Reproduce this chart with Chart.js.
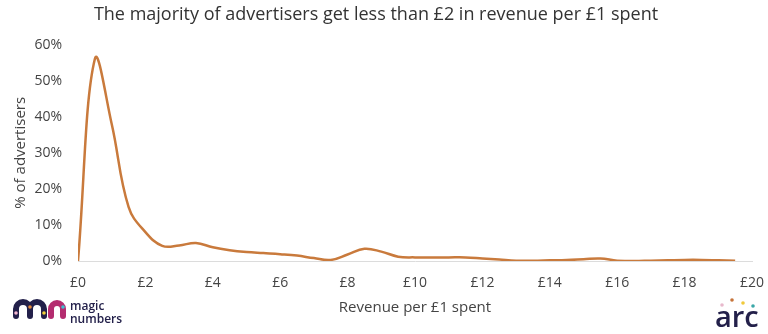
<!DOCTYPE html>
<html>
<head>
<meta charset="utf-8">
<script src="https://cdn.jsdelivr.net/npm/chart.js@4"></script>
<style>
  html, body { margin: 0; padding: 0; background: #fff; }
  #wrap { width: 768px; height: 334px; }
</style>
</head>
<body>
<div id="wrap"><canvas id="revChart" width="768" height="334"></canvas></div>
<script>
// revenue per £1 spent (x) and % of advertisers (y)
const revenue = [0, 0.5, 1, 1.5, 2, 2.5, 3, 3.5, 4, 4.5, 5, 5.5, 6, 6.5, 7, 7.5, 8, 8.5, 9, 9.5,
  10, 10.5, 11, 11.5, 12, 12.5, 13, 13.5, 14, 14.5, 15, 15.5, 16, 16.5, 17, 17.5, 18, 18.5, 19, 19.5];
const advertisers = [0, 56, 38, 15, 8, 4.2, 4.3, 5, 3.8, 3, 2.5, 2.2, 1.9, 1.5, 0.8, 0.3, 1.8, 3.4, 2.6, 1.2,
  1.0, 1.0, 1.0, 1.0, 0.7, 0.4, 0.1, 0.1, 0.2, 0.3, 0.5, 0.7, 0.1, 0, 0.1, 0.2, 0.3, 0.3, 0.2, 0.1];
const xTicks = [0, 2, 4, 6, 8, 10, 12, 14, 16, 18, 20];
const yTicks = [0, 10, 20, 30, 40, 50, 60];

const FONT = "'Open Sans', 'Noto Sans', sans-serif";
const txt = "#444";
const lineColor = "#c97a3c";

const points = revenue.map((r, i) => ({ x: r, y: advertisers[i] }));

// draws the two logos at the bottom corners
const logos = {
  id: "logos",
  afterDraw(chart) {
    const c = chart.ctx;
    c.save();
    c.lineCap = "round";
    c.lineJoin = "round";
    c.lineWidth = 6;
    // "m"
    c.strokeStyle = "#23204a";
    c.beginPath();
    c.moveTo(16, 316);
    c.lineTo(16, 309);
    c.arc(23, 309, 7, Math.PI, 0);
    c.lineTo(30, 316);
    c.moveTo(30, 309);
    c.arc(37, 309, 7, Math.PI, 0);
    c.lineTo(44, 316);
    c.stroke();
    // "n"
    c.strokeStyle = "#b42c6f";
    c.beginPath();
    c.moveTo(51, 316);
    c.lineTo(51, 309);
    c.arc(57, 309, 6, Math.PI, 0);
    c.lineTo(63, 316);
    c.stroke();
    const dot = (x, y, col) => { c.fillStyle = col; c.beginPath(); c.arc(x, y, 1.8, 0, Math.PI * 2); c.fill(); };
    dot(16, 313, "#f3b6d0");
    dot(30, 307, "#e98a3a");
    dot(44, 313, "#f2cf3a");
    dot(63, 307, "#3fbfd2");

    c.fillStyle = "#23204a";
    c.font = "600 12px " + FONT;
    c.textBaseline = "middle";
    c.textAlign = "left";
    c.fillText("magic", 70, 307);
    c.fillText("numbers", 70, 320);

    c.font = "600 29px " + FONT;
    c.textAlign = "left";
    c.textBaseline = "alphabetic";
    c.fillText("arc", 715, 327);
    dot(722, 305, "#e8b9cc");
    dot(732, 300, "#c6743a");
    dot(743, 303, "#f0c93a");
    dot(753, 306, "#3aa7a8");
    c.restore();
  }
};

new Chart(document.getElementById("revChart"), {
  type: "line",
  data: {
    datasets: [
      {
        data: points,
        borderColor: lineColor,
        borderWidth: 2.5,
        pointRadius: 0,
        tension: 0.4,
        fill: false,
      },
    ],
  },
  options: {
    responsive: false,
    animation: false,
    layout: {
      padding: { left: 0, right: 16, top: 0, bottom: 0 },
    },
    plugins: {
      legend: { display: false },
      tooltip: { enabled: false },
      title: {
        display: true,
        text: "The majority of advertisers get less than £2 in revenue per £1 spent",
        color: "#333",
        font: { family: FONT, size: 18, weight: "normal" },
        padding: { top: 4, bottom: 19 },
      },
    },
    scales: {
      x: {
        type: "linear",
        min: 0,
        max: 20,
        afterBuildTicks: (s) => { s.ticks = xTicks.map((v) => ({ value: v })); },
        afterFit: (s) => {
          s.height = 73;
          s.paddingLeft = 0;
          s.paddingRight = 0;
        },
        grid: { display: false, drawTicks: false },
        border: { display: true, color: "#dcdcdc", width: 1 },
        ticks: {
          color: txt,
          padding: 14,
          maxRotation: 0,
          font: { family: FONT, size: 14 },
          callback: (v) => "£" + v,
        },
        title: {
          display: true,
          text: "Revenue per £1 spent",
          color: txt,
          font: { family: FONT, size: 15 },
          padding: { top: 0, bottom: 17 },
        },
      },
      y: {
        min: 0,
        max: 60,
        afterBuildTicks: (s) => { s.ticks = yTicks.map((v) => ({ value: v })); },
        afterFit: (s) => { s.width = 78; },
        grid: { display: false, drawTicks: false },
        border: { display: false },
        ticks: {
          color: txt,
          padding: 16,
          font: { family: FONT, size: 14 },
          callback: (v) => v + "%",
        },
        title: {
          display: true,
          text: "% of advertisers",
          color: txt,
          font: { family: FONT, size: 15 },
          padding: { top: 12, bottom: 0 },
        },
      },
    },
  },
  plugins: [logos],
});
</script>
</body>
</html>
